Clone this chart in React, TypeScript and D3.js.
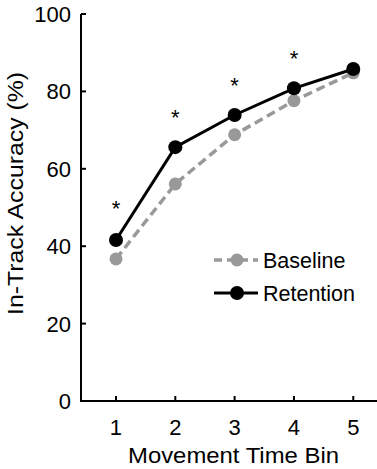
import * as d3 from "d3";
import React from "react";

const bins = [1, 2, 3, 4, 5];
const baseline = [36.7, 56.1, 68.8, 77.6, 84.8];
const retention = [41.6, 65.6, 73.9, 80.8, 85.8];
const starBins = [1, 2, 3, 4];
const starValues = [52, 75.5, 83.7, 90.7];
const yTicks = [0, 20, 40, 60, 80, 100];

const W = 377;
const H = 469;
const font = "'Liberation Sans', Arial, sans-serif";

const App: React.FC = () => {
  const x = d3.scaleLinear().domain([0.41, 5.4]).range([81, 377]);
  const y = d3.scaleLinear().domain([0, 100]).range([401, 14]);

  const line = d3
    .line<number>()
    .x((_d, i) => x(bins[i]))
    .y((d) => y(d));

  return (
    <svg
      width={W}
      height={H}
      style={{ position: "absolute", left: 0, top: 0, background: "#fff" }}
      fontFamily={font}
    >
      {/* axes */}
      <path d={`M${x.range()[0]},${y(100)}V${y(0)}H${x.range()[1]}`} fill="none" stroke="#000" strokeWidth={2} />
      {yTicks.map((t) => (
        <g key={t}>
          <line x1={81} x2={86} y1={y(t)} y2={y(t)} stroke="#000" strokeWidth={2} />
          <text x={71} y={y(t)} dy="0.36em" textAnchor="end" fontSize={22}>
            {t}
          </text>
        </g>
      ))}
      {bins.map((b) => (
        <g key={b}>
          <line x1={x(b)} x2={x(b)} y1={y(0)} y2={y(0) - 5} stroke="#000" strokeWidth={2} />
          <text x={x(b)} y={435} textAnchor="middle" fontSize={22}>
            {b}
          </text>
        </g>
      ))}
      <text x={233.5} y={463} textAnchor="middle" fontSize={22} textLength={211} lengthAdjust="spacingAndGlyphs">
        Movement Time Bin
      </text>
      <text
        transform={`translate(23,193.5) rotate(-90)`}
        textAnchor="middle"
        fontSize={22}
        textLength={243}
        lengthAdjust="spacingAndGlyphs"
      >
        In-Track Accuracy (%)
      </text>

      {/* baseline */}
      <path d={line(baseline) || ""} fill="none" stroke="#999" strokeWidth={3.5} strokeDasharray="9,5" />
      {baseline.map((v, i) => (
        <circle key={i} cx={x(bins[i])} cy={y(v)} r={6.5} fill="#999" />
      ))}

      {/* retention */}
      <path d={line(retention) || ""} fill="none" stroke="#000" strokeWidth={3} />
      {retention.map((v, i) => (
        <circle key={i} cx={x(bins[i])} cy={y(v)} r={7} fill="#000" />
      ))}

      {/* significance */}
      {starValues.map((v, i) => (
        <text key={i} x={x(starBins[i])} y={y(v)} dy="0.72em" textAnchor="middle" fontSize={22}>
          *
        </text>
      ))}

      {/* legend */}
      <g>
        <line x1={214} x2={258} y1={260} y2={260} stroke="#999" strokeWidth={3.5} strokeDasharray="8,5" />
        <circle cx={237} cy={260} r={6.5} fill="#999" />
        <text x={263} y={260} dy="0.36em" fontSize={21.5}>
          Baseline
        </text>
        <line x1={214} x2={258} y1={293} y2={293} stroke="#000" strokeWidth={3} />
        <circle cx={237} cy={293} r={7} fill="#000" />
        <text x={263} y={293} dy="0.36em" fontSize={21.5}>
          Retention
        </text>
      </g>
    </svg>
  );
};

export default App;
